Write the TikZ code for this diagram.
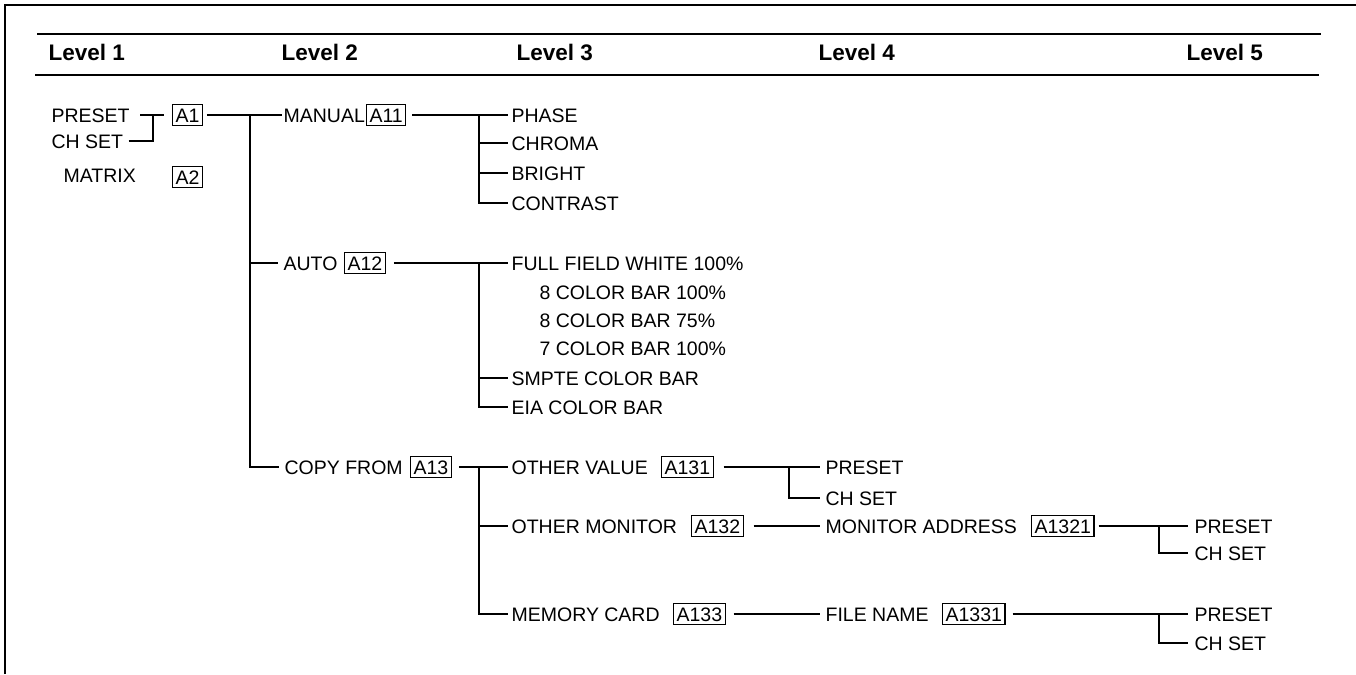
\documentclass[tikz,border=0pt]{standalone}
\usepackage{fontspec}
\setmainfont{Liberation Sans}
\begin{document}
\begin{tikzpicture}[x=1pt,y=-1pt,line width=1.2pt,
    entry/.style={anchor=west,inner sep=0pt,font=\fontsize{19.5}{23}\selectfont,text height=14pt,text depth=0pt},
    menubox/.style={entry,draw,line width=1.1pt,inner xsep=3pt,inner ysep=3.5pt},
    hdr/.style={anchor=base west,inner sep=0pt,font=\fontsize{22.5}{27}\selectfont\bfseries}]
	\useasboundingbox (0,0) rectangle (1356,674);
	\draw[line width=1.5pt] (5,674) -- (5,5) -- (1356,5);
	\draw (37,34) -- (1321,34);
	\draw[line width=2.2pt] (35,75) -- (1319,75);
	\node[hdr] (lv1) at (48,61) {Level 1};
	\node[hdr] (lv2) at (281,61) {Level 2};
	\node[hdr] (lv3) at (516,61) {Level 3};
	\node[hdr] (lv4) at (818,61) {Level 4};
	\node[hdr] (lv5) at (1186,61) {Level 5};
	% level 1
	\node[entry] (preset1) at (51,115) {PRESET};
	\node[entry] (chset1) at (51,141) {CH SET};
	\node[entry] (matrix) at (63,175) {MATRIX};
	\node[menubox] (a1) at (172,115) {A1};
	\node[menubox] (a2) at (172,177) {A2};
	\coordinate (j1) at (153,115);
	\draw ([xshift=10pt]preset1.east) -- ([xshift=-8pt]a1.west);
	\draw ([xshift=5pt]chset1.east) -| (j1);
	% level 2
	\coordinate (j2) at (250,115);
	\node[entry] (manual) at (283,115) {MANUAL};
	\node[menubox] (a11) at (366,115) {A11};
	\node[entry] (auto) at (283,263) {AUTO};
	\node[menubox] (a12) at (344,263) {A12};
	\node[entry] (copy) at (284,467) {COPY FROM};
	\node[menubox] (a13) at (410,467) {A13};
	\draw ([xshift=4pt]a1.east) -- ([xshift=-1pt]manual.west);
	\foreach \n in {auto,copy} \draw (j2) |- ([xshift=-5pt]\n.west);
	% level 3
	\coordinate (j11) at (479,115);
	\node[entry] (phase) at (511,115) {PHASE};
	\node[entry] (chroma) at (511,143) {CHROMA};
	\node[entry] (bright) at (511,173) {BRIGHT};
	\node[entry] (contrast) at (511,203) {CONTRAST};
	\draw ([xshift=6pt]a11.east) -- ([xshift=-3pt]phase.west);
	\foreach \n in {chroma,bright,contrast} \draw (j11) |- ([xshift=-3pt]\n.west);
	\coordinate (j12) at (479,263);
	\node[entry] (full) at (511,263) {FULL FIELD WHITE 100\%};
	\node[entry] (bar8a) at (539,292) {8 COLOR BAR 100\%};
	\node[entry] (bar8b) at (539,320) {8 COLOR BAR 75\%};
	\node[entry] (bar7) at (539,348) {7 COLOR BAR 100\%};
	\node[entry] (smpte) at (511,378) {SMPTE COLOR BAR};
	\node[entry] (eia) at (511,407) {EIA COLOR BAR};
	\draw ([xshift=8pt]a12.east) -- ([xshift=-3pt]full.west);
	\foreach \n in {smpte,eia} \draw (j12) |- ([xshift=-3pt]\n.west);
	\coordinate (j13) at (479,467);
	\node[entry] (othval) at (511,467) {OTHER VALUE};
	\node[menubox] (a131) at (661,467) {A131};
	\node[entry] (othmon) at (511,526) {OTHER MONITOR};
	\node[menubox] (a132) at (691,526) {A132};
	\node[entry] (memcard) at (511,614) {MEMORY CARD};
	\node[menubox] (a133) at (673,614) {A133};
	\draw ([xshift=7pt]a13.east) -- ([xshift=-3pt]othval.west);
	\foreach \n in {othmon,memcard} \draw (j13) |- ([xshift=-3pt]\n.west);
	% level 4
	\coordinate (j131) at (789,467);
	\node[entry] (preset4) at (825,467) {PRESET};
	\node[entry] (chset4) at (825,498) {CH SET};
	\draw ([xshift=10pt]a131.east) -- ([xshift=-5pt]preset4.west);
	\draw (j131) |- ([xshift=-5pt]chset4.west);
	\node[entry] (monaddr) at (825,526) {MONITOR ADDRESS};
	\node[menubox] (a1321) at (1031,526) {A1321};
	\draw ([xshift=10pt]a132.east) -- ([xshift=-5pt]monaddr.west);
	\node[entry] (fname) at (825,614) {FILE NAME};
	\node[menubox] (a1331) at (942,614) {A1331};
	\draw ([xshift=8pt]a133.east) -- ([xshift=-5pt]fname.west);
	% level 5
	\coordinate (j1321) at (1159,526);
	\node[entry] (preset5a) at (1194,526) {PRESET};
	\node[entry] (chset5a) at (1194,553) {CH SET};
	\draw ([xshift=4pt]a1321.east) -- ([xshift=-6pt]preset5a.west);
	\draw (j1321) |- ([xshift=-6pt]chset5a.west);
	\coordinate (j1331) at (1159,614);
	\node[entry] (preset5b) at (1194,614) {PRESET};
	\node[entry] (chset5b) at (1194,643) {CH SET};
	\draw ([xshift=7pt]a1331.east) -- ([xshift=-6pt]preset5b.west);
	\draw (j1331) |- ([xshift=-6pt]chset5b.west);
\end{tikzpicture}
\end{document}
